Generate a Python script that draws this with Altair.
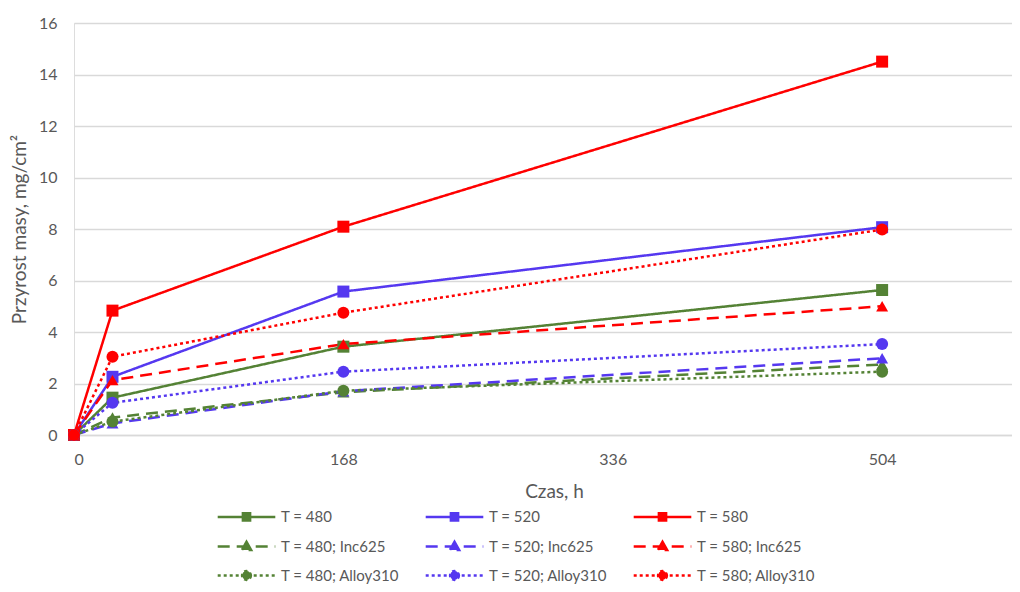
import altair as alt
import pandas as pd

hours = [0, 24, 168, 504]
series_names = [
    "T = 480", "T = 520", "T = 580",
    "T = 480; Inc625", "T = 520; Inc625", "T = 580; Inc625",
    "T = 480; Alloy310", "T = 520; Alloy310", "T = 580; Alloy310",
]
t480 = [0, 1.45, 3.43, 5.63]
t520 = [0, 2.26, 5.57, 8.07]
t580 = [0, 4.83, 8.09, 14.5]
t480_inc = [0, 0.68, 1.66, 2.74]
t520_inc = [0, 0.45, 1.70, 2.98]
t580_inc = [0, 2.13, 3.53, 5.00]
t480_all = [0, 0.52, 1.72, 2.46]
t520_all = [0, 1.25, 2.46, 3.53]
t580_all = [0, 3.04, 4.75, 7.98]
all_values = [t480, t520, t580, t480_inc, t520_inc, t580_inc, t480_all, t520_all, t580_all]
groups = ["base"] * 3 + ["inc"] * 3 + ["alloy"] * 3

GREEN, BLUE, RED = "#548235", "#5538F0", "#FF0000"
colors = [GREEN, BLUE, RED] * 3
SOLID, DASH, DOT = [1, 0], [12, 7], [3, 3]
dashes = [SOLID] * 3 + [DASH] * 3 + [DOT] * 3

rows = []
for name, grp, col, vals in zip(series_names, groups, colors, all_values):
    for h, v in zip(hours, vals):
        rows.append({"time": h, "value": v, "series": name, "group": grp, "color": col})
df = pd.DataFrame(rows)

# legend symbol paths (line + marker); unit = 8 px
SQ = "M-3.6,0H3.6M-0.45,-0.45H0.45V0.45H-0.45Z"
TRI = "M-3.6,0H3.6M0,-0.58L0.58,0.45L-0.58,0.45Z"
CIR = "M-3.6,0H3.6M0.55,0A0.55,0.55,0,1,1,-0.55,0A0.55,0.55,0,1,1,0.55,0Z"
legend_paths = [SQ] * 3 + [TRI] * 3 + [CIR] * 3

stroke_scale = alt.Scale(domain=series_names, range=colors)
dash_scale = alt.Scale(domain=series_names, range=dashes)
shape_scale = alt.Scale(domain=series_names, range=legend_paths)

FONT = "Lato"
GRAY = "#595959"

x_enc = alt.X(
    "time:Q",
    scale=alt.Scale(domain=[0, 585], nice=False),
    axis=alt.Axis(values=[0, 168, 336, 504], title="Czas, h", grid=False, ticks=False,
                  domain=True, domainColor="#D9D9D9", domainWidth=1.5,
                  labelFont=FONT, labelFontSize=16, labelColor=GRAY, labelPadding=16,
                  titleFont=FONT, titleFontSize=19, titleColor=GRAY, titleFontWeight="normal",
                  titlePadding=15, titleX=480),
)
y_enc = alt.Y(
    "value:Q",
    scale=alt.Scale(domain=[0, 16], nice=False),
    axis=alt.Axis(values=list(range(0, 17, 2)), title="Przyrost masy, mg/cm²",
                  grid=True, gridColor="#D9D9D9", gridWidth=1.5, ticks=False, domain=False,
                  labelFont=FONT, labelFontSize=16, labelColor=GRAY, labelPadding=17,
                  titleFont=FONT, titleFontSize=19, titleColor=GRAY, titleFontWeight="normal",
                  titlePadding=9),
)

def lines(grp, dash):
    return alt.Chart(df).transform_filter(alt.datum.group == grp).mark_line(
        strokeWidth=2.5, strokeDash=dash
    ).encode(
        x=x_enc, y=y_enc,
        stroke=alt.Stroke("color:N", scale=None),
        detail="series:N",
        order="time:Q",
    )

def points(grp, shape):
    return alt.Chart(df).transform_filter(alt.datum.group == grp).mark_point(
        filled=True, opacity=1, size=144, shape=shape, strokeWidth=0
    ).encode(
        x="time:Q", y="value:Q",
        fill=alt.Fill("color:N", scale=None),
    )

leg = alt.Legend(
    title=None, orient="none", legendX=163, legendY=484, columns=3, direction="horizontal",
    symbolSize=256, symbolStrokeWidth=2.5, labelFont=FONT, labelFontSize=15,
    labelColor=GRAY, labelOffset=25, rowPadding=10, columnPadding=20,
    labelLimit=300, symbolOpacity=1,
)
legend_layer = alt.Chart(df).transform_filter("datum.value < -100").mark_point(
    filled=True, opacity=1, size=256, strokeWidth=2.5
).encode(
    x="time:Q", y="value:Q",
    fill=alt.Fill("series:N", scale=stroke_scale, legend=leg),
    stroke=alt.Stroke("series:N", scale=stroke_scale, legend=leg),
    shape=alt.Shape("series:N", scale=shape_scale, legend=leg),
    strokeDash=alt.StrokeDash("series:N", scale=dash_scale, legend=leg),
)

chart = alt.layer(
    legend_layer,
    lines("base", SOLID), lines("inc", DASH), lines("alloy", DOT),
    points("base", "square"), points("inc", "triangle-up"), points("alloy", "circle"),
).properties(
    width=938, height=412,
    autosize=alt.AutoSizeParams(type="none"),
    padding={"left": 66, "top": 15, "right": 0, "bottom": 149},
).configure_view(stroke=None).configure(background="white")

chart.save("out.html", embed_options={"renderer": "svg", "actions": False})
